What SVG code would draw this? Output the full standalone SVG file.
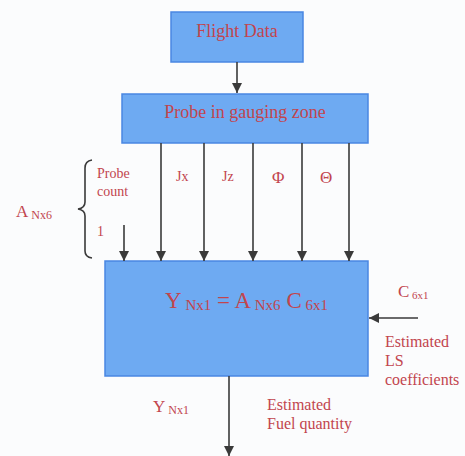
<svg xmlns="http://www.w3.org/2000/svg" width="465" height="456" viewBox="0 0 465 456">
<style>
.box{fill:#6eaaf2;stroke:#4a86e2;stroke-width:1.5}
.t{font-family:"Liberation Serif","Times New Roman",serif;fill:#c2454e}
.ln{stroke:#3a3a3a;stroke-width:1.6;fill:none}
</style>
<defs>
<marker id="ah" viewBox="0 0 10 10" refX="10" refY="5" markerWidth="10" markerHeight="10" markerUnits="userSpaceOnUse" orient="auto">
<path d="M0,0 L10,5 L0,10 z" fill="#3a3a3a"/>
</marker>
</defs>
<rect width="465" height="456" fill="#fbfcfd"/>
<g id="flight-data">
<rect class="box" x="171" y="12" width="132" height="50"/>
<text class="t" x="237" y="37" font-size="18" text-anchor="middle">Flight Data</text>
</g>
<g id="probe-zone">
<rect class="box" x="122" y="94" width="246" height="49"/>
<text class="t" x="245" y="118" font-size="18" text-anchor="middle">Probe in gauging zone</text>
</g>
<g id="ls-model">
<rect class="box" x="105" y="261" width="263" height="115"/>
<text class="t" x="165" y="308" font-size="23">Y<tspan font-size="15" dy="2"> Nx1</tspan><tspan dy="-2"> = A</tspan><tspan font-size="15" dy="2"> Nx6</tspan><tspan dy="-2"> C</tspan><tspan font-size="15" dy="2"> 6x1</tspan></text>
</g>
<g id="connectors">
<line class="ln" x1="237" y1="62" x2="237" y2="93" marker-end="url(#ah)"/>
<line class="ln" x1="161" y1="143" x2="161" y2="261" marker-end="url(#ah)"/>
<line class="ln" x1="204" y1="143" x2="204" y2="261" marker-end="url(#ah)"/>
<line class="ln" x1="253" y1="143" x2="253" y2="261" marker-end="url(#ah)"/>
<line class="ln" x1="302" y1="143" x2="302" y2="261" marker-end="url(#ah)"/>
<line class="ln" x1="349" y1="143" x2="349" y2="261" marker-end="url(#ah)"/>
<line class="ln" x1="124" y1="225" x2="124" y2="261" marker-end="url(#ah)"/>
<line class="ln" x1="418" y1="318" x2="369" y2="318" marker-end="url(#ah)"/>
<line class="ln" x1="229" y1="376" x2="229" y2="456" marker-end="url(#ah)"/>
</g>
<g id="labels">
<path class="ln" d="M92,160 Q85,161 85,168 L85,202 Q85,208 78,209 Q85,210 85,216 L85,251 Q85,257 92,258" stroke-width="1.3"/>
<text class="t" x="16" y="217" font-size="17">A<tspan font-size="12" dy="2"> Nx6</tspan></text>
<text class="t" x="97" y="178" font-size="14">Probe</text>
<text class="t" x="97" y="196" font-size="14">count</text>
<text class="t" x="97" y="236" font-size="14">1</text>
<text class="t" x="176" y="181" font-size="14">Jx</text>
<text class="t" x="222" y="181" font-size="14">Jz</text>
<text class="t" x="272" y="183" font-size="17">Φ</text>
<text class="t" x="320" y="183" font-size="17">Θ</text>
<text class="t" x="398" y="297" font-size="17">C<tspan font-size="11" dy="2"> 6x1</tspan></text>
<text class="t" x="385" y="347" font-size="16">Estimated</text>
<text class="t" x="385" y="366" font-size="16">LS</text>
<text class="t" x="385" y="385" font-size="16">coefficients</text>
<text class="t" x="153" y="412" font-size="17">Y<tspan font-size="12" dy="2"> Nx1</tspan></text>
<text class="t" x="267" y="410" font-size="16">Estimated</text>
<text class="t" x="267" y="429" font-size="16">Fuel quantity</text>
</g>
</svg>
